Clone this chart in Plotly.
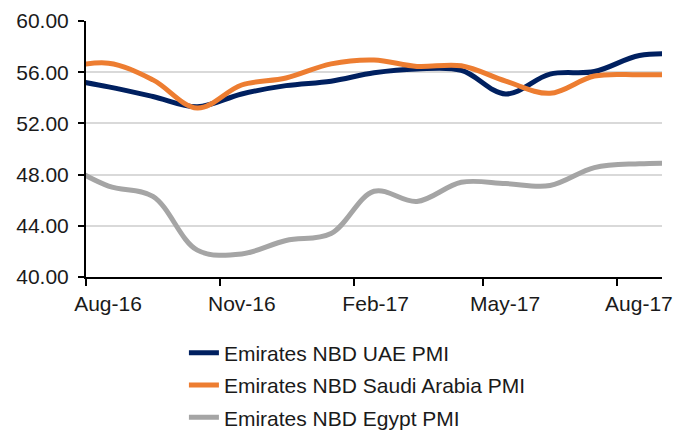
import pandas as pd
import plotly.graph_objects as go

# Monthly observations (Jul-16 and Sep-17 lie just outside the visible axis range)
months = ["Jul-16", "Aug-16", "Sep-16", "Oct-16", "Nov-16", "Dec-16", "Jan-17", "Feb-17",
          "Mar-17", "Apr-17", "May-17", "Jun-17", "Jul-17", "Aug-17", "Sep-17"]
uae_pmi = [55.5, 54.85, 54.1, 53.3, 54.3, 54.95, 55.3, 55.95, 56.25, 56.15, 54.3, 55.85, 56.05, 57.3, 57.4]
saudi_pmi = [56.3, 56.7, 55.4, 53.2, 55.0, 55.55, 56.65, 56.95, 56.45, 56.5, 55.3, 54.35, 55.7, 55.8, 55.8]
egypt_pmi = [48.9, 47.1, 46.3, 42.1, 41.8, 42.85, 43.4, 46.7, 45.9, 47.4, 47.3, 47.15, 48.55, 48.85, 48.9]

series_names = ["Emirates NBD UAE PMI", "Emirates NBD Saudi Arabia PMI", "Emirates NBD Egypt PMI"]
series_colors = ["#002060", "#ED7D31", "#A5A5A5"]

tick_months = ["Aug-16", "Nov-16", "Feb-17", "May-17", "Aug-17"]
y_ticks = [40, 44, 48, 52, 56, 60]

dates = pd.to_datetime(months, format="%b-%y")
tick_dates = pd.to_datetime(tick_months, format="%b-%y")

FONT = "Arial, Liberation Sans, sans-serif"
FS = 21

fig = go.Figure()
for name, vals, col in zip(series_names, [uae_pmi, saudi_pmi, egypt_pmi], series_colors):
    fig.add_trace(go.Scatter(
        x=dates, y=vals, name=name, mode="lines",
        xperiod="M1", xperiodalignment="middle",
        line=dict(color=col, width=5, shape="spline", smoothing=1),
        legendgroup=name,
    ))

fig.update_layout(
    width=688, height=432,
    margin=dict(l=86, r=26, t=21, b=155, autoexpand=False),
    plot_bgcolor="white", paper_bgcolor="white",
    font=dict(family=FONT, size=FS, color="#1a1a1a"),
    showlegend=True,
    legend=dict(
        x=0.17, xanchor="left", y=-0.217, yanchor="top",
        orientation="v", font=dict(size=FS, family=FONT, color="#1a1a1a"),
        tracegroupgap=2, bgcolor="rgba(0,0,0,0)",
    ),
)

fig.update_xaxes(
    type="date", automargin=False,
    range=["2016-08-01", "2017-09-01"],
    tickmode="array", tickvals=tick_dates, ticktext=tick_months,
    ticks="outside", ticklen=7, tickwidth=2, tickcolor="black",
    ticklabelshift=22,
    showline=True, linecolor="black", linewidth=2,
    showgrid=False, zeroline=False,
    tickfont=dict(size=FS, family=FONT, color="#1a1a1a"),
)
fig.update_yaxes(
    automargin=False,
    range=[40, 60], tickmode="array", tickvals=y_ticks, tickformat=".2f",
    ticks="outside", ticklen=6, tickwidth=2, tickcolor="black",
    ticklabelstandoff=5,
    showline=True, linecolor="black", linewidth=2,
    showgrid=True, gridcolor="#d9d9d9", gridwidth=2,
    zeroline=False,
    tickfont=dict(size=FS, family=FONT, color="#1a1a1a"),
)

fig.write_html("out.html", config={"displayModeBar": False},
               post_script="document.body.style.margin='0';")
